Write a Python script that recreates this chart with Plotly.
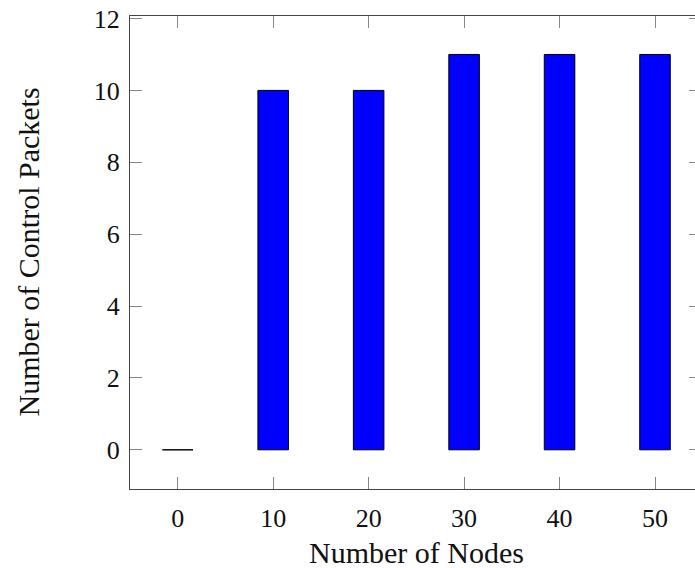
import plotly.graph_objects as go

nodes = [0, 10, 20, 30, 40, 50]
control_packets = [0, 10, 10, 11, 11, 11]
x_ticks = [0, 10, 20, 30, 40, 50]
y_ticks = [0, 2, 4, 6, 8, 10, 12]

FONT = "Liberation Serif"
YR = [-1.09, 12.07]
XR = [-5, 54.19]

fig = go.Figure()
fig.add_trace(go.Bar(
    x=nodes, y=control_packets, width=3.2,
    marker=dict(color="#0000FF", line=dict(color="#000000", width=1)),
    showlegend=False, hoverinfo="x+y",
))
fig.add_trace(go.Scatter(x=[None], y=[None], yaxis="y2", showlegend=False, hoverinfo="skip"))

fig.update_layout(
    width=695, height=568,
    margin=dict(l=130, r=0, t=16, b=79),
    paper_bgcolor="white", plot_bgcolor="white",
    font=dict(family=FONT, size=26, color="#111"),
    xaxis=dict(
        range=XR, tickvals=x_ticks, ticktext=[str(v) for v in x_ticks],
        ticks="inside", ticklen=12, tickwidth=1, tickcolor="#888",
        showline=True, linecolor="#444", linewidth=1.3, mirror="ticks",
        showgrid=False, zeroline=False,
        tickfont=dict(family=FONT, size=26), ticklabelstandoff=6,
        ticklabeloverflow="allow",
    ),
    yaxis=dict(
        range=YR, tickvals=y_ticks, ticktext=[str(v) for v in y_ticks],
        ticks="inside", ticklen=12, tickwidth=1, tickcolor="#888",
        showline=True, linecolor="#444", linewidth=1.3, mirror=False,
        showgrid=False, zeroline=False,
        tickfont=dict(family=FONT, size=26), ticklabelstandoff=4,
        ticklabeloverflow="allow",
    ),
    yaxis2=dict(
        range=YR, tickvals=y_ticks, overlaying="y", side="right",
        ticks="inside", ticklen=6, tickwidth=1, tickcolor="#888",
        showticklabels=False, showline=False, showgrid=False, zeroline=False,
    ),
    annotations=[
        dict(text="Number of Nodes", xref="x", yref="paper", x=25, y=0,
             yshift=-63, xanchor="center", yanchor="middle", showarrow=False,
             font=dict(family=FONT, size=30, color="#111")),
        dict(text="Number of Control Packets", xref="paper", yref="paper", x=0, y=0.5,
             xshift=-102, xanchor="center", yanchor="middle", textangle=-90, showarrow=False,
             font=dict(family=FONT, size=30, color="#111")),
    ],
)

fig.write_html(
    "out.html",
    config={"displayModeBar": False},
    post_script="document.body.style.margin='0';document.body.style.overflow='hidden';"
                "document.documentElement.style.overflow='hidden';",
)
